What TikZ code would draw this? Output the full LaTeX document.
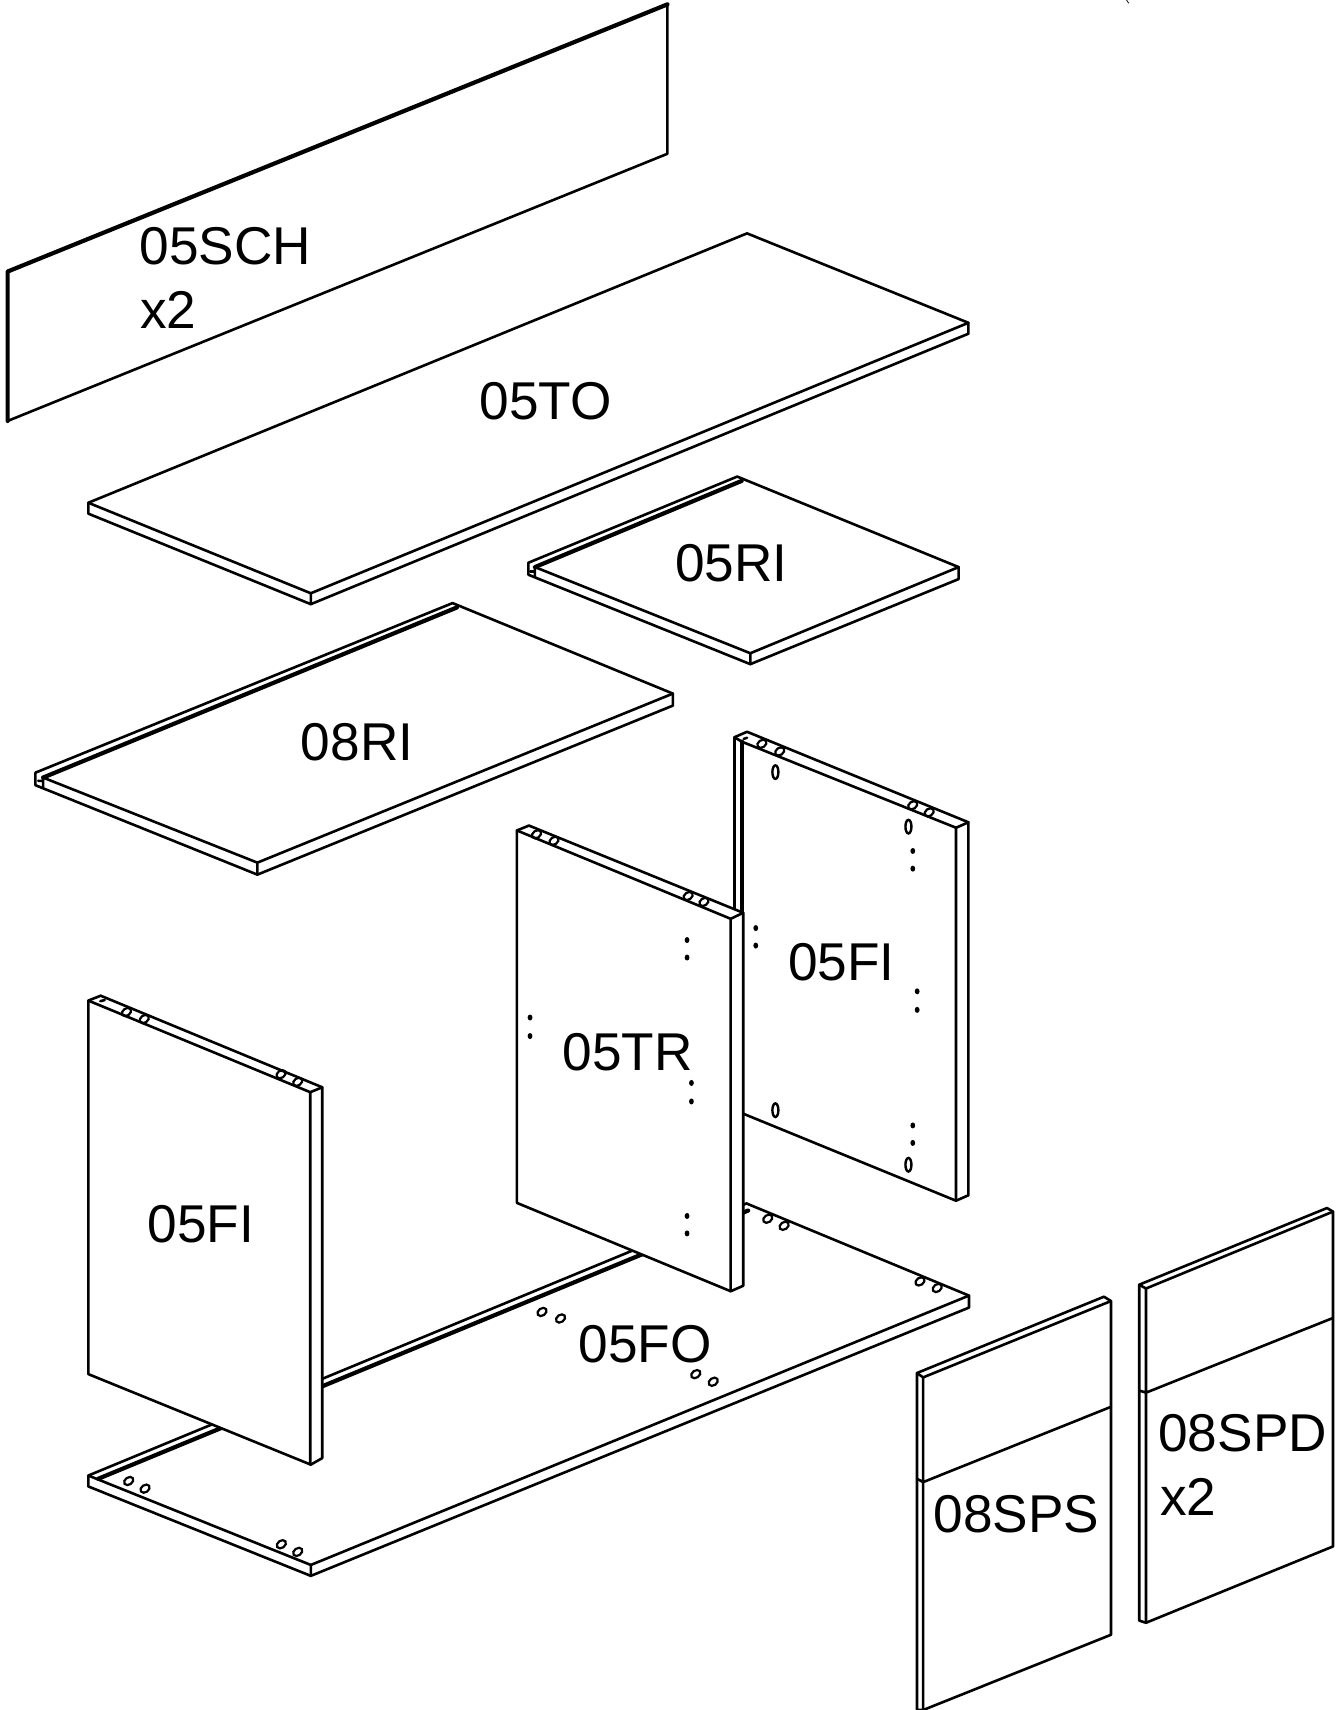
\documentclass[tikz,border=0pt]{standalone}
\usepackage{fontspec}
\setmainfont{Liberation Sans}
\tikzset{
  edge/.style={line width=2.6pt,line join=round,line cap=round,black},
  panel/.style={edge,fill=white},
  heavy/.style={line width=4.2pt,line join=round,line cap=round,black},
  lab/.style={font=\fontsize{53.2pt}{60pt}\selectfont,inner sep=0pt,anchor=base},
  labl/.style={font=\fontsize{53.2pt}{60pt}\selectfont,inner sep=0pt,anchor=base west},
}
\newcommand{\drillhole}[1]{\draw[line width=2.2pt] #1 ellipse [x radius=5pt,y radius=3.6pt,rotate=35];}
\newcommand{\slothole}[1]{\draw[line width=2.4pt] #1 ellipse [x radius=3pt,y radius=6.8pt];}
\newcommand{\pinhole}[1]{\fill #1 ellipse [x radius=2.4pt,y radius=3pt];}
\begin{document}
\begin{tikzpicture}[x=1.0906pt,y=-1.0906pt]
\useasboundingbox (0,0) rectangle (1229.6,1568);
% tiny mark top right
\draw[line width=0.8pt] (1033,0) -- (1035,3);
% 05SCH
\draw[edge] (612,4) -- (612,141) -- (7,386);
\draw[heavy] (7,386) -- (7,249) -- (612,4);
% 05TO
\draw[panel] (81,461) -- (685,214) -- (888,296) -- (888,306) -- (285,554) -- (81,471) -- cycle;
\draw[edge] (81,461) -- (285,544) -- (888,296) (285,544) -- (285,554);
% 05RI
\draw[panel] (484.5,516) -- (676,437) -- (879,520) -- (879,531) -- (688,609) -- (484.5,527) -- cycle;
\draw[edge] (490.5,520) -- (688,599) -- (879,520) (688,599) -- (688,609) (490.5,520) -- (490.5,529) (486,524) -- (490,524);
\draw[heavy] (490.5,520) -- (680,441);
% 08RI
\draw[panel] (32.5,708.5) -- (415,553) -- (617,636) -- (617,647) -- (236,802) -- (32.5,720) -- cycle;
\draw[edge] (39.5,713) -- (236,791) -- (617,636) (236,791) -- (236,802) (39.5,713) -- (39.5,722) (35,716) -- (39,716);
\draw[heavy] (39.5,713) -- (419,557);
% 05FO
\draw[panel] (81,1353) -- (684.5,1103.5) -- (888.5,1188) -- (888.5,1199) -- (285,1445) -- (81,1363) -- cycle;
\draw[edge] (81,1353) -- (285,1435) -- (888.5,1188) (285,1435) -- (285,1445);
\draw[heavy] (90,1356) -- (686,1110);
\foreach \p in {(118,1358),(133,1365),(258,1416),(273,1423),(497,1203),(514,1209),(638,1260),(654,1267),(704,1117.5),(719,1124),(843.6,1175),(859.4,1181)} {\drillhole{\p}}
% 05FI back
\draw[panel] (673.5,676) -- (685,671) -- (888,754) -- (888,1096) -- (876.6,1101) -- (681,1021) -- (681,1100) -- (673.5,1100) -- cycle;
\draw[edge] (680,680) -- (876.6,759) -- (888,754) (876.6,759) -- (876.6,1101);
\draw[edge] (673.5,676) -- (680,680) (682,677.5) -- (685,676.5);
\draw[heavy] (680.5,680) -- (680.5,1021);
\foreach \p in {(698.6,682),(715,689),(836.9,738.4),(852,744.9)} {\drillhole{\p}}
\foreach \p in {(711,708),(833,758),(711,1018),(833,1068)} {\slothole{\p}}
\foreach \p in {(693,851),(693,867),(837,780.3),(837,796.5),(841,909),(841,926),(837,1032),(837,1048)} {\pinhole{\p}}
% 05TR
\draw[panel] (474,761.5) -- (485,757) -- (681.5,837) -- (681.5,1179) -- (670,1184) -- (474,1103) -- cycle;
\draw[edge] (474,761.5) -- (670,842.5) -- (681.5,837) (670,842.5) -- (670,1184);
\foreach \p in {(492,765),(508,771),(631,821.6),(645.5,827)} {\drillhole{\p}}
\foreach \p in {(630,862),(630,878),(486,933),(486,950),(634,993),(634,1010),(630,1115),(630,1131)} {\pinhole{\p}}
% 05FI front
\draw[panel] (81,917.5) -- (92.3,913) -- (295.5,997) -- (295.5,1337) -- (285,1343) -- (81,1260) -- cycle;
\draw[edge] (81,917.5) -- (284.5,1001.5) -- (295.5,997) (284.5,1001.5) -- (284.5,1343);
\foreach \p in {(116,928),(132.3,934.4),(257.7,985),(273,992)} {\drillhole{\p}}
\draw[edge] (92,918) -- (96,917);
% 08SPS
\draw[panel] (840.8,1259) -- (1012.3,1189) -- (1018.7,1193) -- (1018.7,1499) -- (846.5,1568) -- (840.8,1568) -- cycle;
\draw[edge] (840.8,1259) -- (846.5,1263) -- (1018.7,1193) (846.5,1263) -- (846.5,1568) (840.8,1356) -- (846.5,1359) -- (1018.7,1290);
% 08SPD
\draw[panel] (1044.6,1178) -- (1216.8,1107.7) -- (1222.3,1111) -- (1222.3,1418) -- (1050.8,1488) -- (1044.6,1486) -- cycle;
\draw[edge] (1044.6,1178) -- (1050.8,1181.5) -- (1222.3,1111) (1050.8,1181.5) -- (1050.8,1488) (1044.6,1275) -- (1050.8,1277) -- (1222.3,1208.5);
% labels
\node[labl] (sch) at (128,242.5) {05SCH};
\node[labl] (schn) at (128.5,301.5) {x2};
\node[lab] (to) at (500.5,385) {05TO};
\node[lab] (ri) at (670.5,533) {05RI};
\node[lab] (eri) at (327.5,697) {08RI};
\node[lab] (fib) at (771.5,899) {05FI};
\node[lab] (tr) at (575.5,982) {05TR};
\node[lab] (fif) at (184,1139) {05FI};
\node[lab] (fo) at (591.5,1249) {05FO};
\node[lab] (sps) at (932,1405) {08SPS};
\node[labl] (spd) at (1062,1331) {08SPD};
\node[labl] (spdn) at (1063.5,1390) {x2};
\end{tikzpicture}
\end{document}
